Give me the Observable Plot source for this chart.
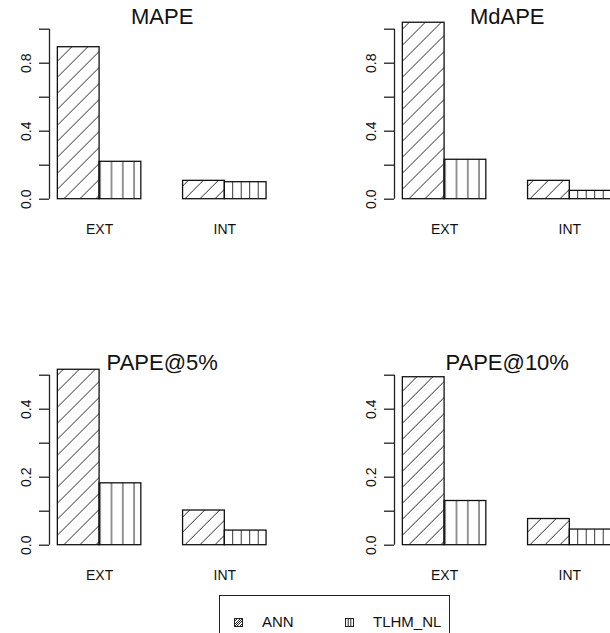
<!DOCTYPE html>
<html>
<head>
<meta charset="utf-8">
<script src="https://cdn.jsdelivr.net/npm/d3@7"></script>
<script src="https://cdn.jsdelivr.net/npm/@observablehq/plot@0.6"></script>
<style>
  html, body { margin: 0; padding: 0; background: #fff; }
  body { width: 610px; height: 633px; overflow: hidden; position: relative; }
  #chart { position: absolute; left: 0; top: 0; width: 610px; height: 633px; overflow: hidden; font-family: "Liberation Sans", Arial, sans-serif; color: #111; }
  #chart > svg.panel { position: absolute; }
  #legend { position: absolute; left: 219px; top: 595px; width: 231px; height: 70px; border: 1px solid #222; box-sizing: border-box; }
  #legend .item { position: absolute; top: 17px; display: flex; align-items: center; font-size: 15px; line-height: 18px; color: #111; }
  #legend .item svg { margin-right: 19px; }
</style>
</head>
<body>
<div id="chart"></div>
<script>
// Error measures shown in the four panels, in reading order
const metrics = ["MAPE", "MdAPE", "PAPE@5%", "PAPE@10%"];
// Test sets along the x axis of each panel
const datasets = ["EXT", "INT"];
// Models compared within each test set
const models = ["ANN", "TLHM_NL"];

// Values per metric (same order as `metrics`)
const annEXT  = [0.894, 1.038, 0.516, 0.494];
const annINT  = [0.108, 0.108, 0.102, 0.077];
const tlhmEXT = [0.220, 0.232, 0.182, 0.130];
const tlhmINT = [0.100, 0.049, 0.043, 0.046];

// Axis ticks for the upper and lower rows, and the ticks that carry a label
const topTicks = [0, 0.2, 0.4, 0.6, 0.8, 1.0];
const topLabels = [0, 0.4, 0.8];
const bottomTicks = [0, 0.1, 0.2, 0.3, 0.4, 0.5];
const bottomLabels = [0, 0.2, 0.4];

const values = {
  ANN: {EXT: annEXT, INT: annINT},
  TLHM_NL: {EXT: tlhmEXT, INT: tlhmINT}
};

// Shared hatch patterns (diagonal for ANN, vertical for TLHM_NL)
const NS = "http://www.w3.org/2000/svg";
const defsSvg = document.createElementNS(NS, "svg");
defsSvg.setAttribute("width", 0);
defsSvg.setAttribute("height", 0);
defsSvg.style.position = "absolute";
defsSvg.innerHTML = `
<defs>
  <pattern id="hatch-ANN-EXT" patternUnits="userSpaceOnUse" x="6.6" y="0" width="16" height="16">
    <path d="M0,16L16,0M-2,2L2,-2M14,18L18,14" stroke="#2a2a2a" stroke-width="1" fill="none"/>
  </pattern>
  <pattern id="hatch-ANN-INT" patternUnits="userSpaceOnUse" x="8.7" y="0" width="15" height="15">
    <path d="M0,15L15,0M-2,2L2,-2M13,17L17,13" stroke="#2a2a2a" stroke-width="1" fill="none"/>
  </pattern>
  <pattern id="hatch-TLHM_NL-EXT" patternUnits="userSpaceOnUse" x="105.85" y="0" width="11.3" height="10">
    <path d="M5.65,0V10" stroke="#2a2a2a" stroke-width="1" fill="none"/>
  </pattern>
  <pattern id="hatch-TLHM_NL-INT" patternUnits="userSpaceOnUse" x="228.45" y="0" width="8.5" height="10">
    <path d="M4.25,0V10" stroke="#2a2a2a" stroke-width="1" fill="none"/>
  </pattern>
</defs>`;
document.body.appendChild(defsSvg);

const chart = document.getElementById("chart");
const groupCenters = datasets.map((_, g) => 2 + 3 * g);

function panel(i) {
  const rows = [];
  datasets.forEach((ds, g) => models.forEach((m, s) => rows.push({
    dataset: ds, model: m, g, s, value: values[m][ds][i]
  })));
  const ticks = i < 2 ? topTicks : bottomTicks;
  const labels = i < 2 ? topLabels : bottomLabels;
  const yMax = ticks[ticks.length - 1];
  const W = 345, H = 250;
  return Plot.plot({
    width: W,
    height: H,
    marginLeft: 49,
    marginRight: 70.6,
    marginTop: 28.7,
    marginBottom: H - 198.7,
    x: {domain: [0.8, 6.2]},
    y: {domain: [0, yMax]},
    color: {type: "identity"},
    style: {background: "transparent", overflow: "visible", fontFamily: "'Liberation Sans', Arial, sans-serif", color: "#111"},
    marks: [
      Plot.rect(rows, {
        x1: d => 1 + 3 * d.g + d.s,
        x2: d => 2 + 3 * d.g + d.s,
        y1: 0,
        y2: "value",
        fill: d => `url(#hatch-${d.model}-${d.dataset})`,
        stroke: "#111",
        strokeWidth: 1.3
      }),
      Plot.ruleX([0.8], {y1: ticks[0], y2: yMax, stroke: "#222", strokeWidth: 1.3}),
      Plot.axisY(ticks, {
        label: null,
        tickSize: 10,
        tickRotate: -90,
        tickPadding: 9,
        fontSize: 14,
        stroke: "#222",
        strokeWidth: 1.3,
        fill: "#111",
        tickFormat: d => labels.includes(d) ? d.toFixed(1) : ""
      }),
      Plot.axisX(groupCenters, {
        label: null,
        tickSize: 0,
        tickPadding: 25,
        fontSize: 14,
        fill: "#111",
        tickFormat: d => datasets[groupCenters.indexOf(d)]
      }),
      Plot.text([metrics[i]], {frameAnchor: "top", lineAnchor: "middle", dy: -12.4, fontSize: 22, fill: "#111"})
    ]
  });
}

const offsets = [[0, 0], [345.4, 0], [0, 346], [345.4, 346]];
metrics.forEach((_, i) => {
  const svg = panel(i);
  svg.classList.add("panel");
  svg.style.left = offsets[i][0] + "px";
  svg.style.top = offsets[i][1] + "px";
  chart.appendChild(svg);
});

// Legend box below the panels
const legend = document.createElement("div");
legend.id = "legend";
const swatches = {
  ANN: `<rect x="0.5" y="0.5" width="8" height="8" fill="none" stroke="#222"/>
        <path d="M0.5,6.5L6.5,0.5M0.5,8.5L8.5,0.5M2.5,8.5L8.5,2.5M0.5,3.5L3.5,0.5M5.5,8.5L8.5,5.5" stroke="#222" stroke-width="1"/>`,
  TLHM_NL: `<rect x="0.5" y="0.5" width="8" height="8" fill="none" stroke="#222"/>
        <path d="M3.2,0.5V8.5M5.8,0.5V8.5" stroke="#222" stroke-width="1"/>`
};
const itemLeft = [14, 125];
models.forEach((m, k) => {
  const item = document.createElement("div");
  item.className = "item";
  item.style.left = itemLeft[k] + "px";
  item.innerHTML = `<svg width="9" height="9">${swatches[m]}</svg><span>${m}</span>`;
  legend.appendChild(item);
});
chart.appendChild(legend);
</script>
</body>
</html>
